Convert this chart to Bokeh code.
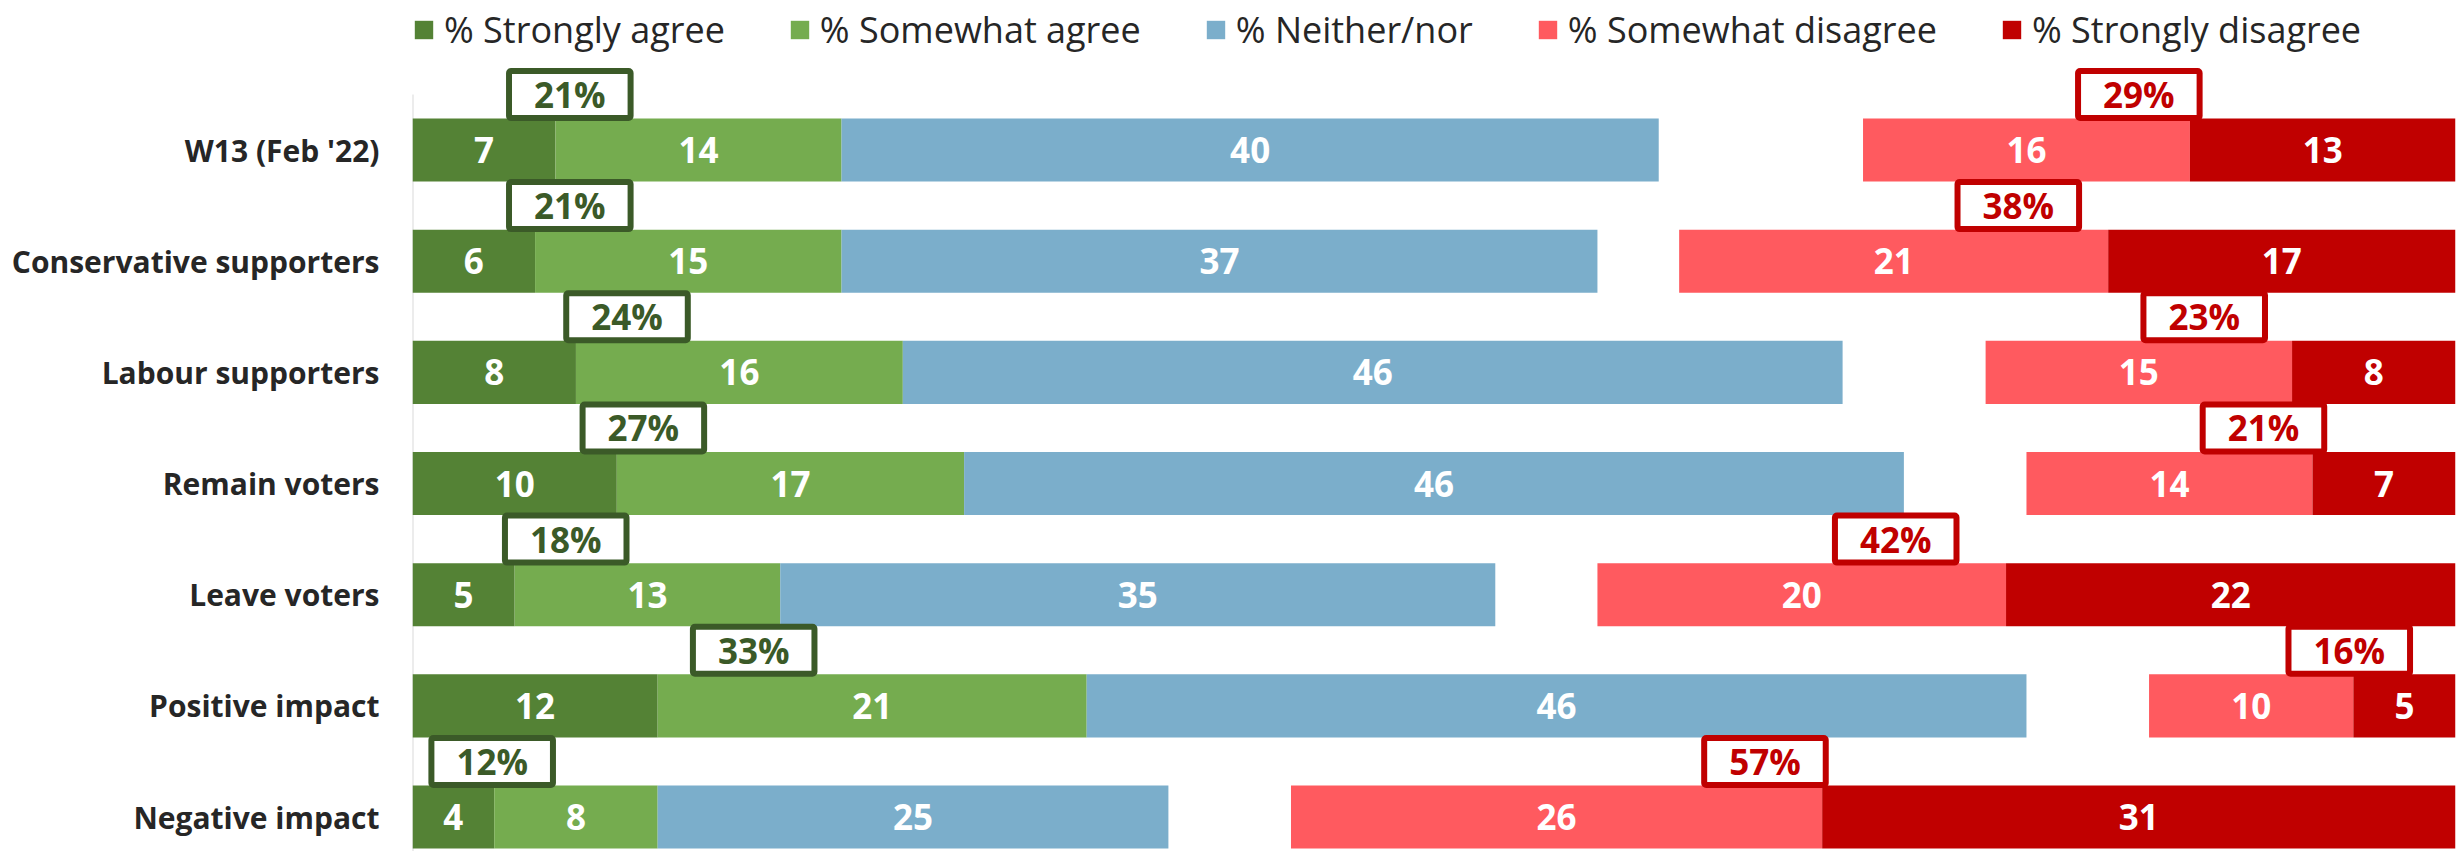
from bokeh.plotting import figure
from bokeh.models import ColumnDataSource, Range1d, FixedTicker, Legend, LegendItem
from bokeh.core.properties import value
from bokeh.embed import file_html
from bokeh.resources import INLINE

# ---------------- data ----------------
categories = ["W13 (Feb '22)", "Conservative supporters", "Labour supporters",
              "Remain voters", "Leave voters", "Positive impact", "Negative impact"]
strongly_agree = [7, 6, 8, 10, 5, 12, 4]
somewhat_agree = [14, 15, 16, 17, 13, 21, 8]
neither_nor = [40, 37, 46, 46, 35, 46, 25]
somewhat_disagree = [16, 21, 15, 14, 20, 10, 26]
strongly_disagree = [13, 17, 8, 7, 22, 5, 31]
total_agree = [21, 21, 24, 27, 18, 33, 12]
total_disagree = [29, 38, 23, 21, 42, 16, 57]
series_names = ["% Strongly agree", "% Somewhat agree", "% Neither/nor",
                "% Somewhat disagree", "% Strongly disagree"]

# ---------------- layout (annotation anchors, manually placed in original) ----------------
agree_box_x = [7.7, 7.7, 10.5, 11.3, 7.5, 16.7, 3.9]
disagree_box_x = [84.5, 78.6, 87.7, 90.6, 72.6, 94.8, 66.2]

colors = ["#548235", "#75AC4F", "#7BAECB", "#FF5A5F", "#C00000"]
green_dark = "#3B5A28"
red_dark = "#C00000"
FONT = "Open Sans"

n = len(categories)
ys = [n - 1 - i for i in range(n)]
X_MAX = 100

sa_l = [0] * n
sa_r = [a for a in strongly_agree]
wa_l = sa_r
wa_r = [a + b for a, b in zip(strongly_agree, somewhat_agree)]
nn_l = wa_r
nn_r = [a + b for a, b in zip(wa_r, neither_nor)]
sd_r = [X_MAX] * n
sd_l = [X_MAX - d for d in strongly_disagree]
wd_r = sd_l
wd_l = [X_MAX - d - w for d, w in zip(strongly_disagree, somewhat_disagree)]

segments = [
    (sa_l, sa_r, strongly_agree),
    (wa_l, wa_r, somewhat_agree),
    (nn_l, nn_r, neither_nor),
    (wd_l, wd_r, somewhat_disagree),
    (sd_l, sd_r, strongly_disagree),
]

y_start, y_end = -0.31, n - 1 + 1.345

p = figure(width=2461, height=851, output_backend="svg", toolbar_location=None,
           x_range=Range1d(0, X_MAX), y_range=Range1d(y_start, y_end),
           min_border_left=412, min_border_right=6, min_border_top=0, min_border_bottom=0)
p.outline_line_color = None
p.background_fill_color = "white"
p.border_fill_color = "white"
p.grid.visible = False
p.xaxis.visible = False

# vertical axis line (only over the bar area)
p.segment(x0=[0], y0=[y_start], x1=[0], y1=[n - 0.5], line_color="#D9D9D9", line_width=2)

BAR_H = 0.567
renderers = []
for (lefts, rights, vals), col in zip(segments, colors):
    src = ColumnDataSource(dict(y=ys, left=lefts, right=rights,
                                mid=[(a + b) / 2 for a, b in zip(lefts, rights)],
                                lab=[str(v) for v in vals]))
    r = p.hbar(y="y", left="left", right="right", height=BAR_H, source=src,
               fill_color=col, line_color=None)
    renderers.append(r)
    p.text(x="mid", y="y", text="lab", source=src, text_color="white",
           text_font=value(FONT), text_font_style="bold", text_font_size="35px",
           text_align="center", text_baseline="middle")

# total boxes
BOX_DY = 0.5
box_pad = dict(left=25, right=25, top=0, bottom=0)
src_a = ColumnDataSource(dict(x=agree_box_x, y=[y + BOX_DY for y in ys],
                              t=[f"{v}%" for v in total_agree]))
p.text(x="x", y="y", text="t", source=src_a, text_color=green_dark,
       text_font=value(FONT), text_font_style="bold", text_font_size="35px",
       text_align="center", text_baseline="middle",
       background_fill_color="white", border_line_color=green_dark,
       border_line_width=6, padding=box_pad, border_radius=2)
src_d = ColumnDataSource(dict(x=disagree_box_x, y=[y + BOX_DY for y in ys],
                              t=[f"{v}%" for v in total_disagree]))
p.text(x="x", y="y", text="t", source=src_d, text_color=red_dark,
       text_font=value(FONT), text_font_style="bold", text_font_size="35px",
       text_align="center", text_baseline="middle",
       background_fill_color="white", border_line_color=red_dark,
       border_line_width=6, padding=box_pad, border_radius=2)

# y axis labels
yax = p.yaxis[0]
yax.ticker = FixedTicker(ticks=ys)
yax.major_label_overrides = {y: c for y, c in zip(ys, categories)}
yax.axis_line_color = None
yax.major_tick_line_color = None
yax.minor_tick_line_color = None
yax.major_tick_out = 0
yax.major_tick_in = 0
yax.major_label_standoff = 33
yax.major_label_text_font = FONT
yax.major_label_text_font_style = "bold"
yax.major_label_text_font_size = "30px"
yax.major_label_text_color = "#262626"

legend = Legend(items=[LegendItem(label=nm, renderers=[r]) for nm, r in zip(series_names, renderers)],
                orientation="horizontal", location=(0, 797),
                label_text_font=FONT, label_text_font_size="36px", label_text_color="#262626",
                glyph_width=23, glyph_height=23, label_standoff=9, spacing=63,
                padding=0, margin=0, border_line_color=None, background_fill_alpha=0)
p.add_layout(legend)

open("out.html", "w").write(file_html(p, INLINE))
